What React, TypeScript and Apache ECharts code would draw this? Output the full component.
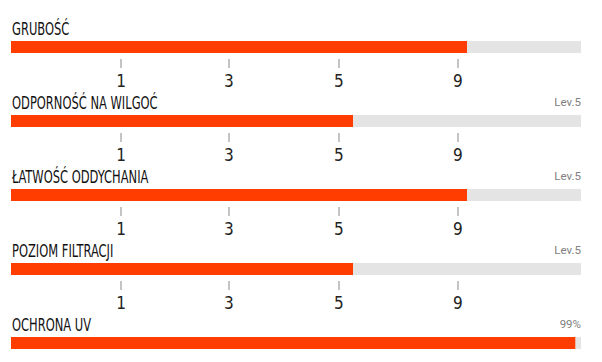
import React, { useEffect, useRef } from "react";
import * as echarts from "echarts";

const titles = ["GRUBOŚĆ", "ODPORNOŚĆ NA WILGOĆ", "ŁATWOŚĆ ODDYCHANIA", "POZIOM FILTRACJI", "OCHRONA UV"];
const values = [80, 60, 80, 60, 99];
const rightLabels = ["", "Lev.5", "Lev.5", "Lev.5", "99%"];
const showTicks = [true, true, true, true, false];
const tickPositions = [19.3, 38.2, 57.5, 78.4];
const tickLabels = ["1", "3", "5", "9"];

const CONDENSED = "'DejaVu Sans Condensed', 'Liberation Sans Narrow', Roboto, sans-serif";

export default function App() {
  const ref = useRef<HTMLDivElement>(null);
  useEffect(() => {
    if (!ref.current) return;
    const chart = echarts.init(ref.current, undefined, { renderer: "svg" });
    const rowTop = (i: number) => 41 + i * 74;
    const grids = titles.map((_, i) => ({ left: 11, right: 21, top: rowTop(i), height: 12 }));
    const xAxes = titles.map((_, i) => ({
      type: "value",
      gridIndex: i,
      min: 0,
      max: 100,
      offset: 6,
      splitLine: { show: false },
      axisLine: { show: false },
      axisTick: {
        show: showTicks[i],
        customValues: tickPositions,
        length: 9,
        lineStyle: { color: "#b0b0b0", width: 1.5 },
      },
      axisLabel: {
        show: showTicks[i],
        customValues: tickPositions,
        formatter: (v: number) => {
          const k = tickPositions.findIndex((p) => Math.abs(p - v) < 0.01);
          return k >= 0 ? tickLabels[k] : "";
        },
        margin: 13,
        fontSize: 17,
        color: "#222",
        fontFamily: CONDENSED,
      },
    }));
    const yAxes = titles.map((_, i) => ({
      type: "category",
      gridIndex: i,
      data: [""],
      show: false,
    }));
    const series = titles.map((t, i) => ({
      type: "bar",
      name: t,
      xAxisIndex: i,
      yAxisIndex: i,
      data: [values[i]],
      barWidth: 12,
      showBackground: true,
      backgroundStyle: { color: "#e4e4e4" },
      itemStyle: { color: "#ff3d00" },
    }));
    const graphics: any[] = [];
    titles.forEach((t, i) => {
      graphics.push({
        type: "text",
        x: 12,
        y: rowTop(i) - 12,
        scaleX: 0.71,
        style: {
          text: t,
          fontSize: 18,
          fontFamily: CONDENSED,
          fill: "#111",
          verticalAlign: "middle",
          align: "left",
        },
      });
      if (rightLabels[i]) {
        graphics.push({
          type: "text",
          x: 581,
          y: rowTop(i) - 13,
          style: {
            text: rightLabels[i],
            fontSize: 11.5,
            fontFamily: "Roboto, sans-serif",
            fill: "#808080",
            verticalAlign: "middle",
            align: "right",
          },
        });
      }
    });
    chart.setOption({
      animation: false,
      backgroundColor: "#ffffff",
      grid: grids,
      xAxis: xAxes,
      yAxis: yAxes,
      series,
      graphic: graphics,
    });
    return () => chart.dispose();
  }, []);
  return <div ref={ref} style={{ position: "fixed", left: 0, top: 0, width: 602, height: 362 }} />;
}
